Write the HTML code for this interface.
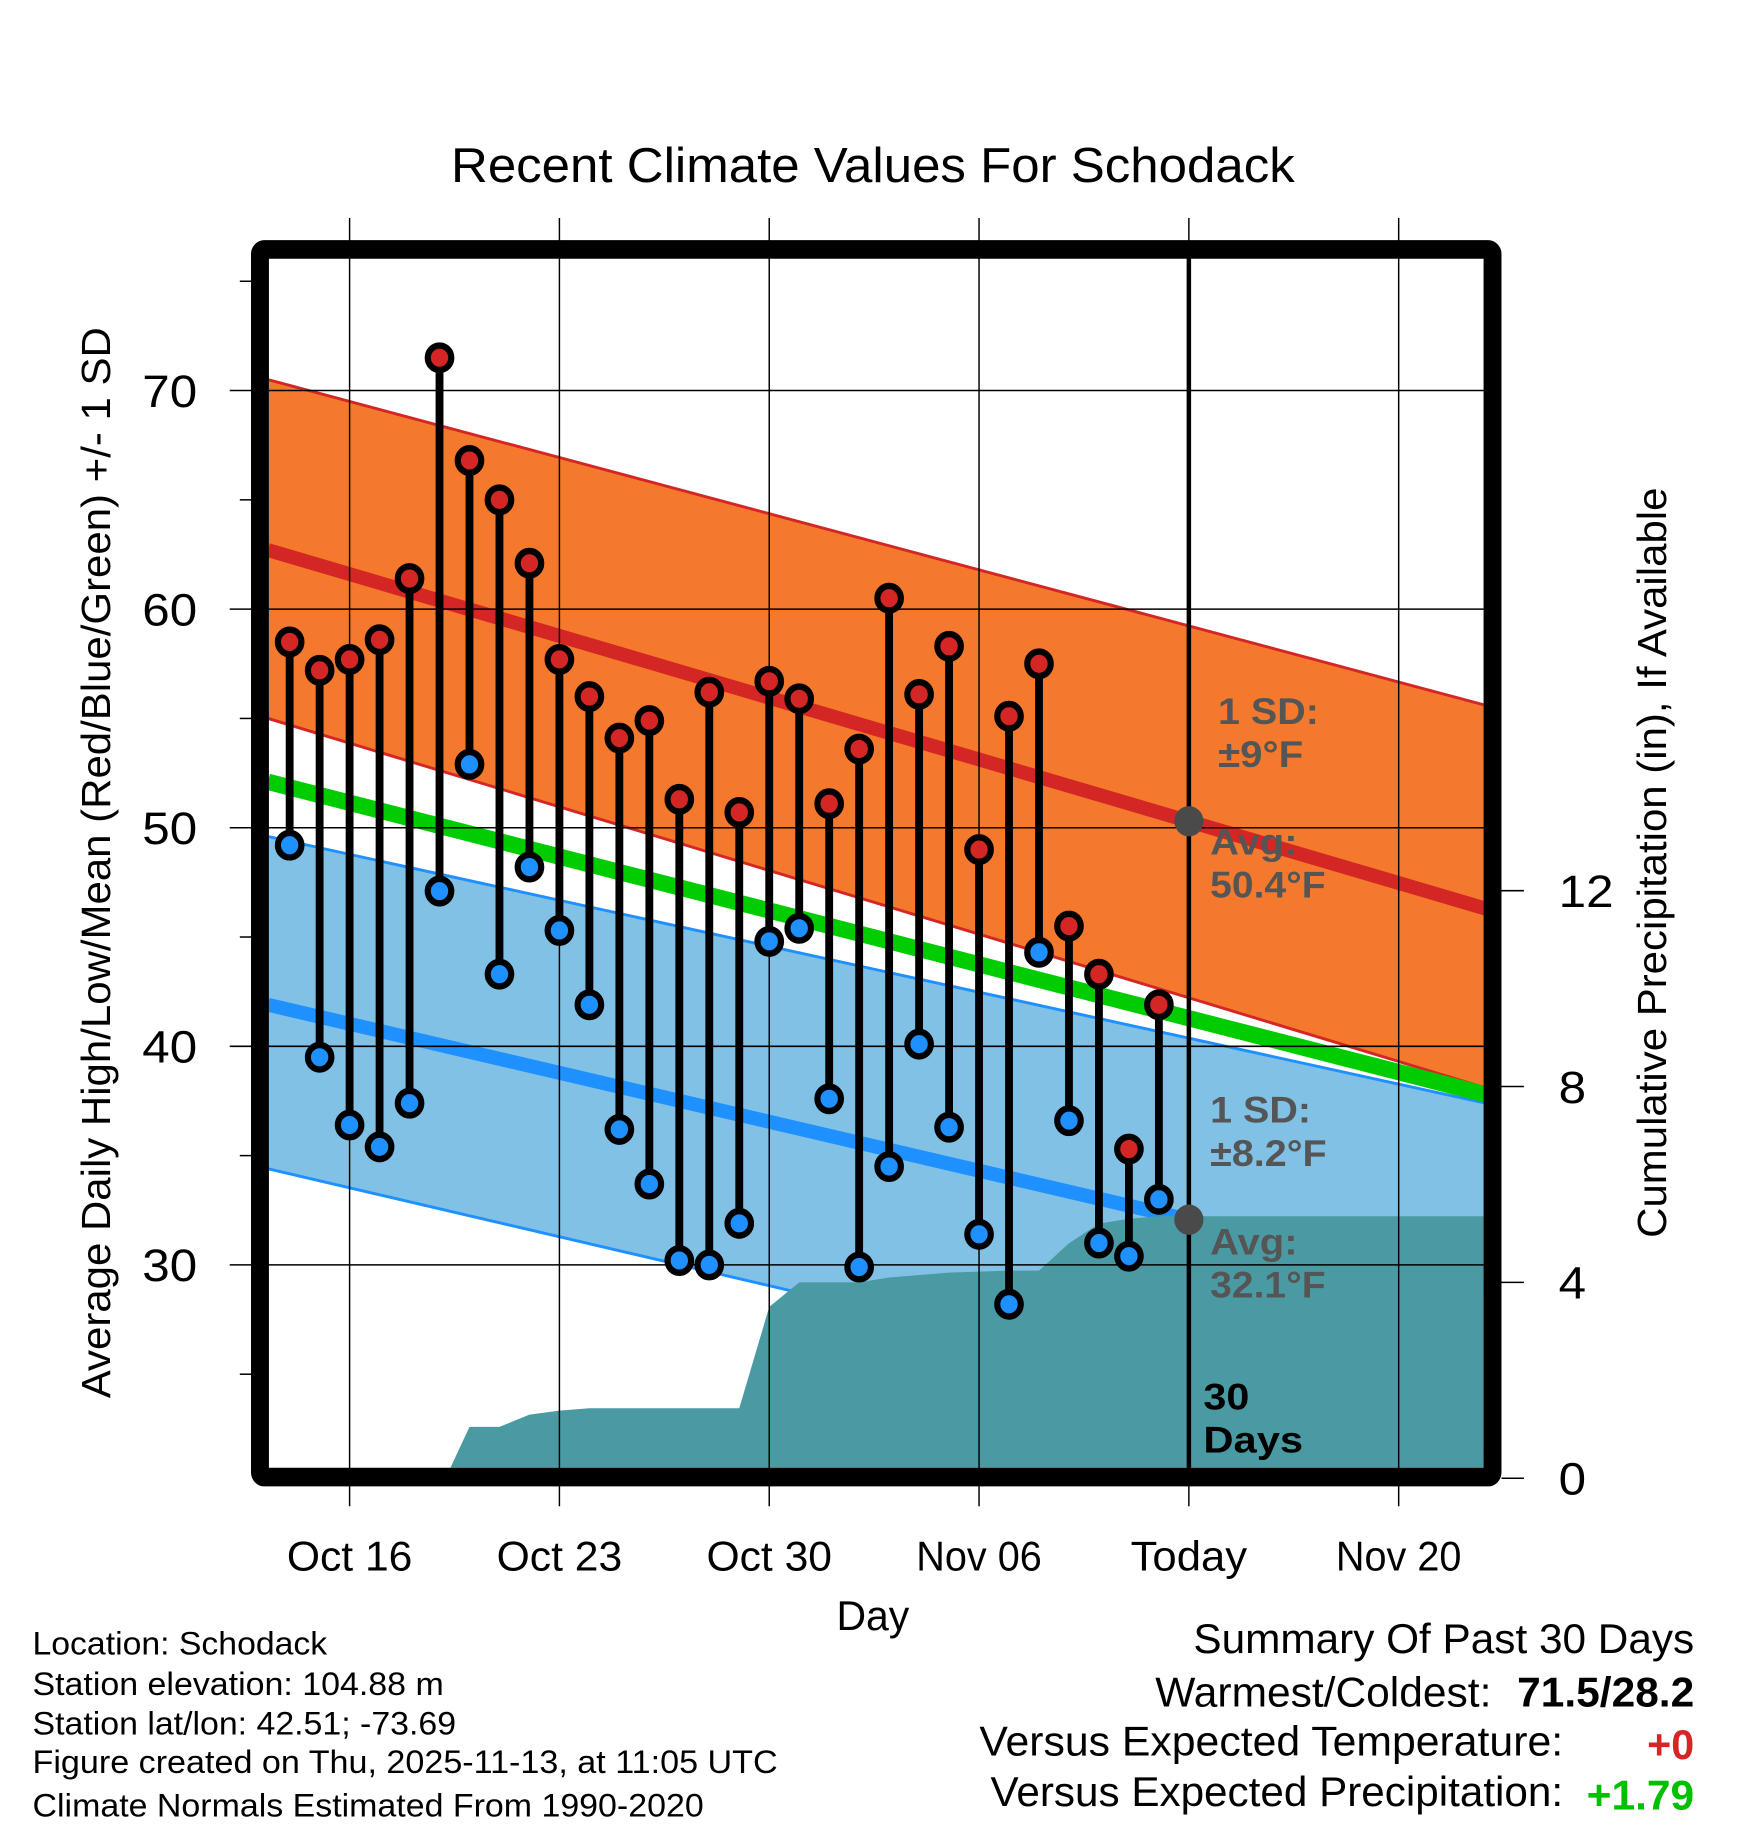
<!DOCTYPE html>
<html><head><meta charset="utf-8"><style>
html,body{margin:0;padding:0;background:#fff;}
svg{display:block;}
text{font-family:"Liberation Sans",Arial,sans-serif;}
</style></head><body>
<svg id="chart" width="1748" height="1828" viewBox="0 0 1560 1568" preserveAspectRatio="none" xmlns="http://www.w3.org/2000/svg">
<g id="back"></g>
</svg>
<script>
const days = [-2,-1,0,1,2,3,4,5,6,7,8,9,10,11,12,13,14,15,16,17,18,19,20,21,22,23,24,25,26,27];
const highs = [58.5,57.2,57.7,58.6,61.4,71.5,66.8,65.0,62.1,57.7,56.0,54.1,54.9,51.3,56.2,50.7,56.7,55.9,51.1,53.6,60.5,56.1,58.3,49.0,55.1,57.5,45.5,43.3,35.3,41.9];
const lows = [49.2,39.5,36.4,35.4,37.4,47.1,52.9,43.3,48.2,45.3,41.9,36.2,33.7,30.2,30.0,31.9,44.8,45.4,37.6,29.9,34.5,40.1,36.3,31.4,28.2,44.3,36.6,31.0,30.4,33.0];
const normDays = [-2.72, 37.9];
const hiAvg = [62.7, 46.3];
const hiUpper = [70.5, 55.6];
const hiLower = [55.0, 38.1];
const meanAvg = [52.1, 37.8];
const loAvg = [41.9, 28.9];
const loUpper = [49.6, 37.4];
const loLower = [34.4, 21.4];
const precipDays = [3.2,4,5,6,7,8,13,14,15,17,18,20,22,23,24,25,26,27,37.9];
const precipVals = [0,1.05,1.05,1.3,1.38,1.43,1.43,3.5,4.0,4.0,4.1,4.2,4.24,4.24,4.8,5.2,5.3,5.35,5.35];
const xTickDays = [0,7,14,21,28,35];
const xTickLabels = ["Oct 16","Oct 23","Oct 30","Nov 06","Today","Nov 20"];
const yTicks = [30,40,50,60,70];
const yMinor = [25,35,45,55,65,75];
const pTicks = [0,4,8,12];

const NS="http://www.w3.org/2000/svg";
const svg=document.getElementById('chart');
const X0=240,X1=1324,Y0=221,Y1=1259;
const x=d=>312+d*26.75;
const y=t=>1085-(t-30)*18.75;
const yp=p=>1268-p*42;
function el(tag,attrs,parent){const e=document.createElementNS(NS,tag);for(const k in attrs)e.setAttribute(k,attrs[k]);(parent||svg).appendChild(e);return e;}
function txt(s,attrs){const e=el('text',attrs);e.textContent=s;return e;}
function lin(arr,d){return arr[0]+(arr[1]-arr[0])*(d-normDays[0])/(normDays[1]-normDays[0]);}

const defs=el('defs',{});
const cp=el('clipPath',{id:'pc'},defs);el('rect',{x:X0,y:Y0,width:X1-X0,height:Y1-Y0},cp);
const plot=el('g',{'clip-path':'url(#pc)'});

function band(up,lo,fill,name){
  const pts=[[normDays[0],up[0]],[normDays[1],up[1]],[normDays[1],lo[1]],[normDays[0],lo[0]]].map(p=>x(p[0])+','+y(p[1])).join(' ');
  const p=el('polygon',{points:pts,fill:fill},plot);
  
  
}
function line(arr,color,w,name){
  const l=el('line',{x1:x(normDays[0]),y1:y(arr[0]),x2:x(normDays[1]),y2:y(arr[1]),stroke:color,'stroke-width':w},plot);
  
  
}
band(hiUpper,hiLower,'#f4792d','high-sd-band');
band(loUpper,loLower,'#82c1e6','low-sd-band');
line(hiUpper,'#d42625',2.5,'high-upper-sd-line');
line(hiLower,'#d42625',2.5,'high-lower-sd-line');
line(loUpper,'#1e90ff',2.5,'low-upper-sd-line');
line(loLower,'#1e90ff',2.5,'low-lower-sd-line');
line(hiAvg,'#d42625',12,'high-average-line');
line(loAvg,'#1e90ff',12,'low-average-line');
line(meanAvg,'#00cc00',14,'mean-average-line');
let pp='M'+x(precipDays[0])+','+yp(0);
precipDays.forEach((d,i)=>{pp+=' L'+x(d)+','+yp(precipVals[i]);});
pp+=' L'+x(precipDays[precipDays.length-1])+','+yp(0)+' Z';
const pa=el('path',{d:pp,fill:'#4a9aa3'},plot);


yTicks.forEach(t=>{const g=el('line',{x1:205,x2:X1,y1:y(t),y2:y(t),stroke:'#000','stroke-width':1.3});});
xTickDays.forEach(d=>{const g=el('line',{x1:x(d),x2:x(d),y1:187,y2:1292,stroke:'#000','stroke-width':1.3});});
yMinor.forEach(t=>{const g=el('line',{x1:214,x2:224,y1:y(t),y2:y(t),stroke:'#000','stroke-width':1.3});});
pTicks.forEach(p=>{const g=el('line',{x1:1340,x2:1360,y1:yp(p),y2:yp(p),stroke:'#000','stroke-width':1.3});});
const tl=el('line',{x1:x(28),x2:x(28),y1:Y0,y2:Y1,stroke:'#000','stroke-width':4});


days.forEach((d,i)=>{
  const s=el('line',{x1:x(d),x2:x(d),y1:y(highs[i]),y2:y(lows[i]),stroke:'#000','stroke-width':7});
  
  
  const h=el('circle',{cx:x(d),cy:y(highs[i]),r:10.5,fill:'#d42625',stroke:'#000','stroke-width':5.5});
  
  
  const l=el('circle',{cx:x(d),cy:y(lows[i]),r:10.5,fill:'#1e90ff',stroke:'#000','stroke-width':5.5});
  
  
});
[[hiAvg,'today-high-normal-marker'],[loAvg,'today-low-normal-marker']].forEach(a=>{
  const c=el('circle',{cx:x(28),cy:y(lin(a[0],28)),r:13,fill:'#4a4a4a'});
  
  
});
const fr=el('rect',{x:232,y:214,width:1100,height:1053,fill:'none',stroke:'#000','stroke-width':16,rx:4});


function ann(lines,lens,xx,yy,fill,name){
  const t=el('text',{x:xx,y:yy,fill:fill,'font-size':32,'font-weight':'bold'});
  
  
  lines.forEach((s,i)=>{const ts=el('tspan',{x:xx,dy:i?37:0,textLength:lens[i],lengthAdjust:'spacingAndGlyphs'},t);ts.textContent=s;});
}
ann(['1 SD:','±9°F'],[90,76],1087,621,'#555','high-sd-label');
ann(['Avg:','50.4°F'],[78,103],1080,733,'#555','high-avg-label');
ann(['1 SD:','±8.2°F'],[90,104],1080,963,'#555','low-sd-label');
ann(['Avg:','32.1°F'],[78,103],1080,1076,'#555','low-avg-label');
ann(['30','Days'],[41,89],1074,1209,'#000','period-label');
yTicks.forEach(t=>{const e=txt(String(t),{x:176,y:y(t)+14,'font-size':39,'text-anchor':'end',textLength:49,lengthAdjust:'spacingAndGlyphs'});});
pTicks.forEach(p=>{const s=String(p);const e=txt(s,{x:1391,y:yp(p)+14,'font-size':39,textLength:s.length*24.5,lengthAdjust:'spacingAndGlyphs'});});
xTickDays.forEach((d,i)=>{const e=txt(xTickLabels[i],{x:x(d),y:1347,'font-size':36,'text-anchor':'middle',textLength:xTickLabels[i]==='Today'?104:112,lengthAdjust:'spacingAndGlyphs'});});
</script>
<svg style="position:absolute;left:0;top:0" width="1748" height="1828" viewBox="0 0 1560 1568" preserveAspectRatio="none" xmlns="http://www.w3.org/2000/svg">
<text x="779" y="156" font-size="42" text-anchor="middle" textLength="753" lengthAdjust="spacingAndGlyphs">Recent Climate Values For Schodack</text>
<text x="779" y="1398" font-size="36" text-anchor="middle" textLength="65" lengthAdjust="spacingAndGlyphs">Day</text>
<text transform="translate(98,740) rotate(-90)" font-size="36" text-anchor="middle">Average Daily High/Low/Mean (Red/Blue/Green) +/- 1 SD</text>
<text transform="translate(1487,740) rotate(-90)" font-size="36" text-anchor="middle">Cumulative Precipitation (in), If Available</text>
<g font-size="28">
<text x="29" y="1419" textLength="263" lengthAdjust="spacingAndGlyphs">Location: Schodack</text>
<text x="29" y="1454" textLength="367" lengthAdjust="spacingAndGlyphs">Station elevation: 104.88 m</text>
<text x="29" y="1488" textLength="378" lengthAdjust="spacingAndGlyphs">Station lat/lon: 42.51; -73.69</text>
<text x="29" y="1521" textLength="665" lengthAdjust="spacingAndGlyphs">Figure created on Thu, 2025-11-13, at 11:05 UTC</text>
<text x="29" y="1558" textLength="599" lengthAdjust="spacingAndGlyphs">Climate Normals Estimated From 1990-2020</text>
</g>
<g font-size="36">
<text x="1512" y="1418" text-anchor="end" textLength="447" lengthAdjust="spacingAndGlyphs">Summary Of Past 30 Days</text>
<text x="1331" y="1464" text-anchor="end" textLength="300" lengthAdjust="spacingAndGlyphs">Warmest/Coldest:</text>
<text x="1512" y="1464" text-anchor="end" font-weight="bold" textLength="158" lengthAdjust="spacingAndGlyphs">71.5/28.2</text>
<text x="1395" y="1506" text-anchor="end" textLength="521" lengthAdjust="spacingAndGlyphs">Versus Expected Temperature:</text>
<text x="1512" y="1509" text-anchor="end" font-weight="bold" fill="#d42625" textLength="42" lengthAdjust="spacingAndGlyphs">+0</text>
<text x="1395" y="1549" text-anchor="end" textLength="511" lengthAdjust="spacingAndGlyphs">Versus Expected Precipitation:</text>
<text x="1512" y="1552" text-anchor="end" font-weight="bold" fill="#00c000" textLength="96" lengthAdjust="spacingAndGlyphs">+1.79</text>
</g>
</svg>
</body></html>
